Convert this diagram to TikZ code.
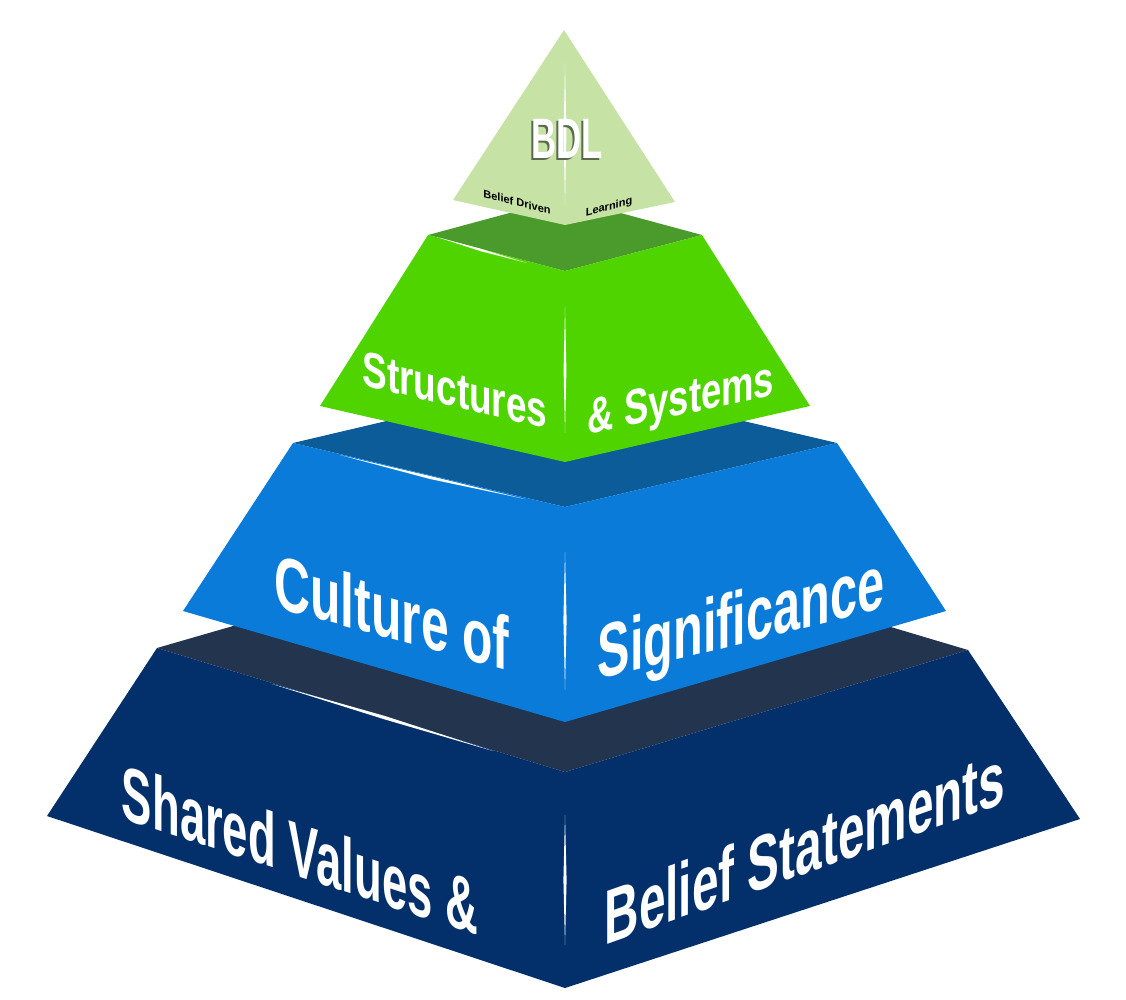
\documentclass[tikz,border=0pt]{standalone}
\usepackage{fontspec}
\setmainfont{Liberation Sans}
\definecolor{tri}{HTML}{C6E2A5}
\definecolor{gtop}{HTML}{4A9A2C}
\definecolor{gfront}{HTML}{50D400}
\definecolor{btop}{HTML}{0B5C99}
\definecolor{bfront}{HTML}{0A7BD9}
\definecolor{ntop}{HTML}{22344E}
\definecolor{nfront}{HTML}{03306B}
\definecolor{bdlshadow}{HTML}{5A6A50}
\begin{document}
\begin{tikzpicture}[x=1pt,y=-1pt,
  lab/.style={text=white,inner sep=0pt,anchor=base},
  small/.style={text=black,inner sep=0pt,anchor=base,font=\bfseries\fontsize{11}{12}\selectfont},
  glint/.style={fill=white}
]
\useasboundingbox (0,0) rectangle (1126,999);
% ---------- navy tier ----------
\fill[ntop] (157,648) -- (565,530) -- (968,650) -- (565,772) -- cycle;
\fill[nfront] (157,648) -- (565,772) -- (565,988) -- (47,816) -- cycle;
\fill[nfront] (565,772) -- (968,650) -- (1080,819) -- (565,988) -- cycle;
\fill[glint] (272,684) -- (385,716) -- (493,751) -- (385,719.5) -- cycle;
\fill[glint] (565,815) -- (566.6,880) -- (565,945) -- (563.4,880) -- cycle;
% ---------- blue tier ----------
\fill[btop] (293,443) -- (565,379) -- (837,443) -- (565,507) -- cycle;
\fill[bfront] (293,443) -- (565,507) -- (565,722) -- (183,611) -- cycle;
\fill[bfront] (565,507) -- (837,443) -- (946,611) -- (565,722) -- cycle;
\fill[glint] (340,455) -- (430,476) -- (525,499) -- (430,479) -- cycle;
\fill[glint] (565,552) -- (566.6,620) -- (565,690) -- (563.4,620) -- cycle;
% ---------- green tier ----------
\fill[gtop] (428,235) -- (565,198) -- (702,235) -- (565,271) -- cycle;
\fill[gfront] (428,235) -- (565,271) -- (565,462) -- (320,406) -- cycle;
\fill[gfront] (565,271) -- (702,235) -- (810,406) -- (565,462) -- cycle;
\fill[glint] (437,237) -- (480,248.5) -- (527,263) -- (480,251) -- cycle;
\fill[glint] (565,307) -- (566.4,370) -- (565,433) -- (563.6,370) -- cycle;
% ---------- top triangle ----------
\fill[tri] (564,30) -- (453,200) -- (565,225) -- (675,202) -- cycle;
\fill[glint] (565,63) -- (566.4,135) -- (565,205) -- (563.6,135) -- cycle;
% ---------- labels ----------
\node[lab,text=bdlshadow,font=\bfseries\fontsize{57}{60}\selectfont,xscale=0.61] (bdl-shadow) at (565,160) {BDL};
\node[lab,font=\bfseries\fontsize{57}{60}\selectfont,xscale=0.61] (bdl) at (567,158) {BDL};
\node[small,yslant=-0.26] (belief-driven) at (517,206) {Belief Driven};
\node[small,yslant=0.28] (learning) at (609,210) {Learning};
\node[lab,font=\bfseries\fontsize{50}{60}\selectfont,yslant=-0.235,xscale=0.74] (structures) at (455,407) {Structures};
\node[lab,font=\bfseries\fontsize{50}{60}\selectfont,yslant=0.21,xscale=0.73] (systems) at (681,415) {\& Systems};
\node[lab,font=\bfseries\fontsize{76}{80}\selectfont,yslant=-0.27,xscale=0.655] (culture) at (392,639) {Culture of};
\node[lab,font=\bfseries\fontsize{76}{80}\selectfont,yslant=0.25,xscale=0.64] (significance) at (741,644) {Significance};
\node[lab,font=\bfseries\fontsize{77}{80}\selectfont,yslant=-0.33,xscale=0.59] (shared) at (300,877) {Shared Values \&};
\node[lab,font=\bfseries\fontsize{77}{80}\selectfont,yslant=0.355,xscale=0.62] (statements) at (805,874) {Belief Statements};
\end{tikzpicture}
\end{document}
